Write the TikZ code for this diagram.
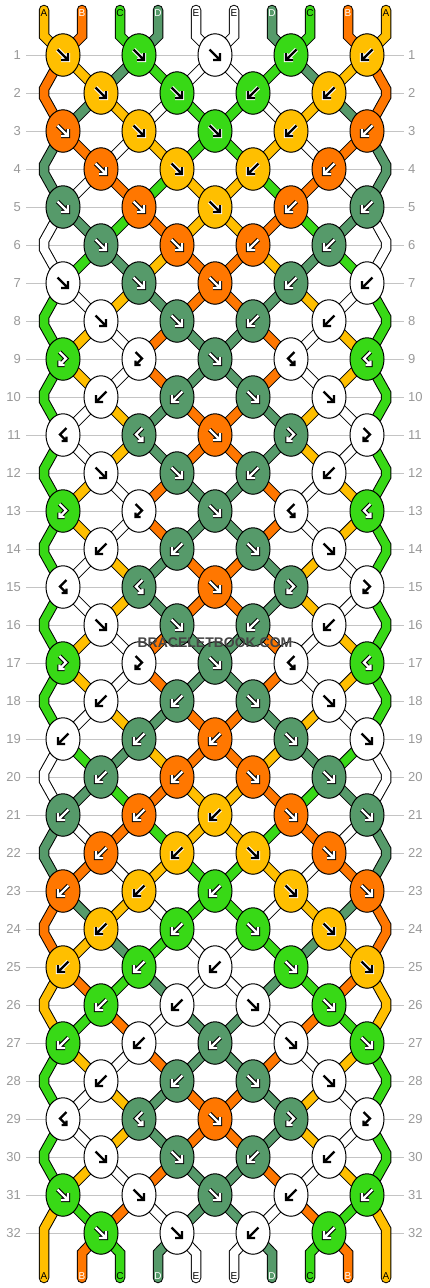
\documentclass[tikz,border=0pt]{standalone}
\usepackage{fontspec}
\setmainfont{Liberation Sans}
\usetikzlibrary{shapes.geometric}
\definecolor{cA}{HTML}{FFBF00}
\definecolor{cB}{HTML}{FF7700}
\definecolor{cC}{HTML}{38D916}
\definecolor{cH}{HTML}{38D916}
\definecolor{cD}{HTML}{569A6A}
\definecolor{cE}{HTML}{FFFFFF}
\definecolor{numgray}{HTML}{999999}
\definecolor{rulegray}{HTML}{C4C4C4}
\definecolor{wmark}{HTML}{454545}
\def\fgA{black}\def\bgA{white}
\def\fgB{white}\def\bgB{black}
\def\fgC{black}\def\bgC{white}
\def\fgH{white}\def\bgH{black}
\def\fgD{white}\def\bgD{black}
\def\fgE{black}\def\bgE{white}
\def\labA{black}\def\labB{white}\def\labC{black}\def\labD{white}\def\labE{black}
\newcommand\arrowF[1]{\draw[#1] (-5.5,-5.5)--(4.6,4.6) (5,-2)--(5,5)--(-2,5);}
\newcommand\arrowB[1]{\draw[#1] (5.5,-5.5)--(-4.6,4.6) (-5,-2)--(-5,5)--(2,5);}
\newcommand\arrowFB[1]{\draw[#1] (-3.5,-7)--(3,-0.5)--(-3.2,5.7) (-3.5,1.5)--(-3.5,6)--(1.5,6);}
\newcommand\arrowBF[1]{\draw[#1] (3.5,-7)--(-3,-0.5)--(3.2,5.7) (3.5,1.5)--(3.5,6)--(-1.5,6);}
\newcommand\knotmark[4]{%
  \node[knot, fill=c#3] (n-#1-#2) at (k-#1-#2) {};
  \edef\kfg{\csname fg#3\endcsname}\edef\kbg{\csname bg#3\endcsname}%
  \begin{scope}[shift={(k-#1-#2)}]
    \csname arrow#4\endcsname{line width=4.4pt, draw=\kbg}
    \csname arrow#4\endcsname{line width=2.4pt, draw=\kfg}
  \end{scope}}
\begin{document}
\begin{tikzpicture}[x=1pt,y=-1pt,
  strand/.style={draw=black, line width=1pt, double=#1, double distance=8.5pt, line join=miter},
  knot/.style={ellipse, draw=black, line width=1pt, minimum width=34pt, minimum height=42.5pt, inner sep=0pt},
  rownum/.style={text=numgray, font=\fontsize{13}{13}\selectfont, inner sep=0pt},
  strlabel/.style={font=\fontsize{10}{10}\selectfont, inner sep=0pt}]
\fill[white] (0,0) rectangle (430,1288);
\useasboundingbox (0,0) rectangle (430,1288);
% knot positions
\foreach \r in {1,3,...,31}{\foreach \j in {0,...,4}{\coordinate (k-\r-\j) at ({63+76*\j},{55+38*(\r-1)});}}
\foreach \r in {2,4,...,32}{\foreach \j in {0,...,3}{\coordinate (k-\r-\j) at ({101+76*\j},{55+38*(\r-1)});}}
% row rules and numbers
\foreach \r in {1,...,32}{
  \pgfmathsetmacro\yy{55+38*(\r-1)}
  \draw[rulegray, line width=1pt] (26,\yy) -- (404,\yy);
  \node[rownum, anchor=east] (ll-\r) at (21,\yy) {\r};
  \node[rownum, anchor=west] (rl-\r) at (408,\yy) {\r};
}
% top stubs
\foreach \c [count=\p from 0] in {A,B,C,D,E,E,D,C,B,A}{
  \pgfmathtruncatemacro\j{floor(\p/2)}
  \draw[strand=c\c, line cap=round] (44+38*\p,10) -- (44+38*\p,36) -- (k-1-\j);
  \edef\lc{\csname lab\c\endcsname}
  \node[strlabel, text=\lc] (t-\p) at (44+38*\p,13.5) {\c};
}
% bottom stubs
\foreach \c [count=\p from 0] in {A,B,C,D,E,E,D,C,B,A}{
  \ifnum\p=0
    \draw[strand=c\c, line cap=round] (k-31-0) -- (44,1229) -- (44,1278);
  \else\ifnum\p=9
    \draw[strand=c\c, line cap=round] (k-31-4) -- (386,1229) -- (386,1278);
  \else
    \pgfmathtruncatemacro\j{floor((\p-1)/2)}
    \draw[strand=c\c, line cap=round] (k-32-\j) -- (44+38*\p,1253) -- (44+38*\p,1278);
  \fi\fi
  \edef\lc{\csname lab\c\endcsname}
  \node[strlabel, text=\lc] (b-\p) at (44+38*\p,1276.5) {\c};
}
% edge chevrons
\foreach \r/\c in {2/B,4/D,6/E,8/C,10/C,12/C,14/C,16/C,18/C,20/E,22/D,24/B,26/A,28/C,30/C}{
  \pgfmathtruncatemacro\rp{\r-1}\pgfmathtruncatemacro\rn{\r+1}
  \pgfmathsetmacro\yy{55+38*(\r-1)}
  \draw[strand=c\c] (k-\rp-0) -- (44,\yy-4) -- (44,\yy+4) -- (k-\rn-0);
  \draw[strand=c\c] (k-\rp-4) -- (386,\yy-4) -- (386,\yy+4) -- (k-\rn-4);
}
% inner segments
\foreach \r/\st in {
1/{B,A,D,C,E,E,C,D,A,B},
2/{B,D,A,E,C,C,E,A,D,B},
3/{D,B,E,A,C,C,A,E,B,D},
4/{D,E,B,C,A,A,C,B,E,D},
5/{E,D,C,B,A,A,B,C,D,E},
6/{E,C,D,A,B,B,A,D,C,E},
7/{C,E,A,D,B,B,D,A,E,C},
8/{C,A,E,B,D,D,B,E,A,C},
9/{C,A,E,B,D,D,B,E,A,C},
10/{C,E,A,D,B,B,D,A,E,C},
11/{C,E,A,D,B,B,D,A,E,C},
12/{C,A,E,B,D,D,B,E,A,C},
13/{C,A,E,B,D,D,B,E,A,C},
14/{C,E,A,D,B,B,D,A,E,C},
15/{C,E,A,D,B,B,D,A,E,C},
16/{C,A,E,B,D,D,B,E,A,C},
17/{C,A,E,B,D,D,B,E,A,C},
18/{C,E,A,D,B,B,D,A,E,C},
19/{E,C,D,A,B,B,A,D,C,E},
20/{E,D,C,B,A,A,B,C,D,E},
21/{D,E,B,C,A,A,C,B,E,D},
22/{D,B,E,A,C,C,A,E,B,D},
23/{B,D,A,E,C,C,E,A,D,B},
24/{B,A,D,C,E,E,C,D,A,B},
25/{A,B,C,D,E,E,D,C,B,A},
26/{A,C,B,E,D,D,E,B,C,A},
27/{C,A,E,B,D,D,B,E,A,C},
28/{C,E,A,D,B,B,D,A,E,C},
29/{C,E,A,D,B,B,D,A,E,C},
30/{C,A,E,B,D,D,B,E,A,C},
31/{A,C,B,E,D,D,E,B,C,A}}{
  \pgfmathtruncatemacro\rn{\r+1}
  \foreach \c [count=\p from 0] in \st {
    \ifnum\p=0 \else\ifnum\p=9 \else
      \ifodd\r\relax
        \pgfmathtruncatemacro\ja{floor(\p/2)}\pgfmathtruncatemacro\jb{floor((\p-1)/2)}
      \else
        \pgfmathtruncatemacro\ja{floor((\p-1)/2)}\pgfmathtruncatemacro\jb{floor(\p/2)}
      \fi
      \draw[strand=c\c] (k-\r-\ja) -- (k-\rn-\jb);
    \fi\fi
  }
}
% knots
\foreach \r/\kl in {
1/{A/F,C/F,E/F,C/B,A/B},
2/{A/F,C/F,C/B,A/B},
3/{B/F,A/F,C/F,A/B,B/B},
4/{B/F,A/F,A/B,B/B},
5/{D/F,B/F,A/F,B/B,D/B},
6/{D/F,B/F,B/B,D/B},
7/{E/F,D/F,B/F,D/B,E/B},
8/{E/F,D/F,D/B,E/B},
9/{H/FB,E/FB,D/F,E/BF,H/BF},
10/{E/B,D/B,D/F,E/F},
11/{E/BF,D/BF,B/F,D/FB,E/FB},
12/{E/F,D/F,D/B,E/B},
13/{H/FB,E/FB,D/F,E/BF,H/BF},
14/{E/B,D/B,D/F,E/F},
15/{E/BF,D/BF,B/F,D/FB,E/FB},
16/{E/F,D/F,D/B,E/B},
17/{H/FB,E/FB,D/F,E/BF,H/BF},
18/{E/B,D/B,D/F,E/F},
19/{E/B,D/B,B/B,D/F,E/F},
20/{D/B,B/B,B/F,D/F},
21/{D/B,B/B,A/B,B/F,D/F},
22/{B/B,A/B,A/F,B/F},
23/{B/B,A/B,H/B,A/F,B/F},
24/{A/B,H/B,H/F,A/F},
25/{A/B,H/B,E/B,H/F,A/F},
26/{H/B,E/B,E/F,H/F},
27/{H/B,E/B,D/B,E/F,H/F},
28/{E/B,D/B,D/F,E/F},
29/{E/BF,D/BF,B/F,D/FB,E/FB},
30/{E/F,D/F,D/B,E/B},
31/{H/F,E/F,D/F,E/B,H/B},
32/{H/F,E/F,E/B,H/B}}{
  \foreach \c/\t [count=\j from 0] in \kl {\knotmark{\r}{\j}{\c}{\t}}
}
\node[font=\bfseries\fontsize{14}{14}\selectfont, text=wmark, inner sep=0pt] (wm) at (215,643) {BRACELETBOOK.COM};
\end{tikzpicture}
\end{document}
